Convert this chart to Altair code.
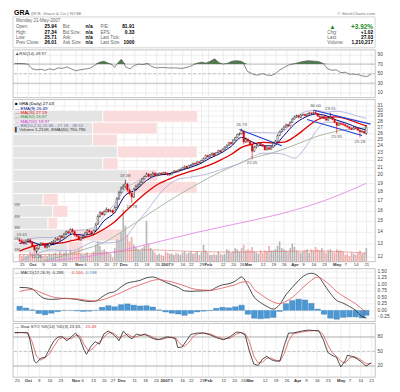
import altair as alt
import pandas as pd

W = 364
H_HEAD, H_RSI, H_PRICE, H_MACD, H_STO = 38, 48, 163, 53, 54
FONT = "Liberation Sans"
GRID = "#e3e3e3"
LBLC = "#444444"

# ---------------- x-axis categories (trading-day index -> label) ----------------
tick_idx = [1, 6, 11, 16, 21, 28, 31, 36, 41, 45, 49, 55, 60, 65, 69, 72, 77, 81, 86, 89,
            96, 101, 105, 108, 115, 120, 125, 130, 134, 139, 144, 150, 154, 159, 164]
tick_lbl = ["25", "Oct", "9", "16", "23", "Nov", "6", "13", "20", "27", "Dec", "11", "18", "26",
            "2007", "8", "16", "22", "29", "Feb", "12", "20", "26", "Mar", "12", "19", "26",
            "Apr", "9", "16", "23", "May", "7", "14", "21"]
month_idx = [6, 28, 49, 69, 89, 108, 130, 150]

# ---------------- daily prices (Sep 22 2006 .. May 21 2007) ----------------
closes = [13.2, 13.1, 13.0, 13.2, 13.3, 13.1,
          12.8, 12.5, 12.6, 12.9, 13.0,
          12.9, 12.7, 12.8, 13.0, 13.1,
          13.2, 13.4, 13.3, 13.6, 13.5,
          13.8, 14.0, 13.9, 14.2, 14.0,
          13.7, 13.6, 13.3, 13.5, 13.6,
          13.9, 14.1, 14.0, 13.8, 14.1,
          14.6, 15.4, 15.8, 15.6, 15.9,
          16.1, 15.9, 16.0, 15.8,
          16.3, 17.2, 17.9, 18.4, 18.6,
          18.9, 18.2, 17.8, 17.4, 18.3,
          18.6, 18.8, 19.1, 19.5, 19.8,
          20.1, 19.8, 20.0, 20.2, 19.9,
          20.0, 20.2, 20.1, 20.3,
          20.2, 20.0, 20.1,
          20.3, 20.5, 20.4, 20.6, 20.7,
          20.9, 21.1, 20.9, 21.2,
          21.3, 21.5, 21.4, 21.7, 21.6,
          21.9, 22.2, 22.6, 22.4, 22.7,
          22.9, 22.6, 23.0, 23.3, 23.1,
          23.5, 23.8, 24.1, 24.5, 24.3,
          24.9, 25.3, 25.8, 25.9,
          26.4, 24.6, 25.0, 24.7, 24.2,
          23.2, 23.8, 24.0, 24.4, 24.2,
          24.0, 23.4, 23.7, 23.5, 23.8,
          24.4, 24.7, 25.6, 26.2, 26.6,
          27.0, 27.4, 27.2, 27.8, 28.4,
          28.8, 29.0, 28.7, 29.1,
          29.2, 29.0, 29.3, 29.5, 29.4,
          29.6, 29.4, 28.9, 28.7, 28.8,
          28.5, 28.2, 28.5, 28.7, 28.3,
          27.8,
          27.3, 27.6, 27.5, 27.4,
          27.2, 27.0, 26.8, 26.6, 26.9,
          26.8, 26.5, 26.2, 26.3, 26.01,
          27.03]
opens = [13.3, 13.2, 13.1, 13.0, 13.2, 13.3,
         13.1, 12.8, 12.4, 12.6, 12.9,
         13.0, 12.9, 12.7, 12.8, 13.0,
         13.1, 13.2, 13.4, 13.3, 13.6,
         13.5, 13.8, 14.0, 13.9, 14.2,
         14.0, 13.7, 13.6, 13.3, 13.5,
         13.6, 13.9, 14.1, 14.0, 13.8,
         14.1, 14.7, 15.4, 15.8, 15.6,
         15.9, 16.1, 15.9, 16.0,
         15.8, 16.3, 17.2, 17.9, 18.4,
         18.6, 18.9, 18.2, 17.8, 17.4,
         18.3, 18.6, 18.8, 19.1, 19.5,
         19.8, 20.1, 19.8, 20.0, 20.2,
         19.9, 20.0, 20.2, 20.1,
         20.3, 20.2, 20.0,
         20.1, 20.3, 20.5, 20.4, 20.6,
         20.7, 20.9, 21.1, 20.9,
         21.2, 21.3, 21.5, 21.4, 21.7,
         21.6, 21.9, 22.2, 22.6, 22.4,
         22.7, 22.9, 22.6, 23.0, 23.3,
         23.1, 23.5, 23.8, 24.1, 24.5,
         24.3, 24.9, 25.3, 25.8,
         25.9, 26.3, 24.6, 25.0, 24.7,
         24.2, 23.2, 23.8, 24.0, 24.4,
         24.2, 24.0, 23.4, 23.7, 23.5,
         23.8, 24.4, 24.7, 25.6, 26.2,
         26.6, 27.0, 27.4, 27.2, 27.8,
         28.4, 28.8, 29.0, 28.7,
         29.1, 29.2, 29.0, 29.3, 29.5,
         29.4, 29.6, 29.4, 28.9, 28.7,
         28.8, 28.5, 28.2, 28.5, 28.7,
         28.3,
         27.8, 27.3, 27.6, 27.5,
         27.4, 27.2, 27.0, 26.8, 26.6,
         26.9, 26.8, 26.5, 26.2, 26.3,
         25.94]
highs = [13.4, 13.41, 13.3, 13.3, 13.4, 13.4,
         13.2, 12.9, 12.7, 13.0, 13.1,
         13.1, 13.0, 12.9, 13.1, 13.2,
         13.3, 13.5, 13.5, 13.7, 13.7,
         13.9, 14.1, 14.1, 14.3, 14.3,
         14.1, 13.8, 13.7, 13.6, 13.7,
         14.0, 14.2, 14.2, 14.1, 14.2,
         14.8, 15.6, 15.9, 15.9, 16.0,
         16.3, 16.2, 16.1, 16.1,
         16.5, 17.4, 18.1, 18.6, 18.9,
         19.38, 19.0, 18.4, 17.9, 18.4,
         18.8, 19.0, 19.3, 19.6, 19.9,
         20.3, 20.2, 20.1, 20.4, 20.3,
         20.2, 20.3, 20.3, 20.4,
         20.4, 20.3, 20.2,
         20.4, 20.6, 20.6, 20.7, 20.8,
         21.0, 21.2, 21.2, 21.3,
         21.4, 21.6, 21.6, 21.8, 21.8,
         22.0, 22.3, 22.7, 22.7, 22.8,
         23.0, 23.0, 23.1, 23.4, 23.4,
         23.6, 23.9, 24.2, 24.6, 24.6,
         25.0, 25.4, 25.9, 26.1,
         26.73, 26.4, 25.3, 25.2, 24.8,
         24.3, 24.0, 24.2, 24.6, 24.5,
         24.3, 24.1, 23.9, 23.8, 23.9,
         24.6, 24.9, 25.8, 26.4, 26.8,
         27.2, 27.6, 27.6, 28.0, 28.6,
         29.0, 29.2, 29.1, 29.3,
         29.4, 29.4, 29.5, 29.7, 29.7,
         29.8, 30.0, 29.5, 29.1, 29.0,
         29.0, 28.6, 28.7, 29.55, 28.8,
         28.4,
         27.9, 27.8, 27.8, 27.7,
         27.5, 27.3, 27.1, 26.9, 27.1,
         27.0, 26.9, 26.6, 26.5, 26.4,
         27.34]
lows = [13.1, 13.0, 12.9, 12.9, 13.1, 13.0,
        12.7, 12.4, 12.26, 12.5, 12.8,
        12.8, 12.6, 12.6, 12.7, 12.9,
        13.0, 13.1, 13.2, 13.2, 13.4,
        13.4, 13.7, 13.8, 13.8, 13.9,
        13.6, 13.5, 13.2, 13.2, 13.4,
        13.5, 13.8, 13.9, 13.7, 13.7,
        14.0, 14.6, 15.3, 15.5, 15.5,
        15.8, 15.8, 15.8, 15.7,
        15.7, 16.2, 17.1, 17.8, 18.2,
        18.4, 18.0, 17.6, 16.78, 17.3,
        18.1, 18.4, 18.7, 19.0, 19.4,
        19.7, 19.7, 19.7, 19.9, 19.8,
        19.8, 19.9, 20.0, 20.0,
        20.1, 19.9, 19.9,
        20.0, 20.2, 20.3, 20.3, 20.5,
        20.6, 20.8, 20.8, 20.8,
        21.1, 21.2, 21.3, 21.3, 21.5,
        21.5, 21.8, 22.1, 22.3, 22.3,
        22.6, 22.5, 22.5, 22.9, 23.0,
        23.0, 23.4, 23.7, 24.0, 24.2,
        24.2, 24.8, 25.2, 25.6,
        25.8, 24.2, 24.4, 24.5, 24.0,
        22.05, 23.1, 23.6, 23.9, 24.0,
        23.8, 23.3, 23.3, 23.4, 23.4,
        23.7, 24.3, 24.6, 25.5, 26.1,
        26.5, 26.9, 27.0, 27.1, 27.7,
        28.3, 28.6, 28.5, 28.6,
        29.0, 28.9, 28.9, 29.2, 29.2,
        29.3, 29.3, 28.8, 28.5, 28.6,
        28.4, 28.1, 28.1, 28.4, 28.2,
        27.7,
        25.95, 27.2, 27.3, 27.2,
        27.1, 26.9, 26.6, 26.5, 26.5,
        26.6, 26.4, 25.28, 26.1, 25.9,
        25.71]
volumes = [0.7, 0.5, 0.6, 0.5, 0.6, 0.9,
           0.8, 1.0, 1.1, 0.7, 0.6,
           0.5, 0.6, 0.5, 0.7, 0.6,
           0.7, 0.8, 0.6, 0.9, 0.7,
           0.8, 0.9, 0.7, 1.0, 0.8,
           0.9, 0.8, 1.1, 0.7, 0.6,
           0.7, 0.8, 0.6, 0.7, 0.9,
           1.5, 1.8, 1.4, 1.0, 1.1,
           0.9, 0.8, 0.7, 0.4,
           1.2, 2.0, 1.9, 2.6, 4.6,
           3.2, 2.4, 1.8, 2.2, 1.5,
           1.3, 1.1, 1.0, 1.2, 1.4,
           3.6, 1.6, 1.2, 1.0, 0.8,
           0.6, 0.7, 0.6, 0.5,
           0.9, 0.8, 0.7,
           0.7, 0.6, 0.8, 0.7, 0.6,
           0.8, 0.9, 0.7, 0.8,
           0.9, 0.7, 0.8, 0.9, 0.6,
           0.8, 1.5, 1.0, 0.8, 0.6,
           0.6, 0.7, 0.6, 0.9, 0.7,
           0.6, 0.7, 1.1, 1.0, 0.8,
           0.9, 1.2, 1.1, 0.9,
           1.2, 1.5, 1.0, 1.1, 1.0,
           1.3, 0.9, 0.8, 0.7, 1.0,
           0.8, 1.0, 0.9, 1.4, 1.0,
           1.0, 1.1, 1.4, 1.8, 1.2,
           1.1, 1.0, 0.9, 1.2, 1.6,
           1.3, 1.0, 0.9, 0.8,
           0.9, 1.0, 1.1, 0.8, 1.1,
           1.0, 1.3, 1.1, 1.0, 1.2,
           0.9, 0.8, 1.0, 1.1, 0.9,
           0.8,
           1.1, 1.0, 1.0, 0.9,
           0.6, 0.7, 0.5, 0.8, 0.7,
           0.6, 0.8, 1.0, 0.7, 0.8,
           1.21]

# ---------------- overlays (read at sample days) ----------------
line_idx = [0, 5, 10, 15, 20, 25, 30, 35, 40, 45, 50, 55, 60, 65, 70, 75, 80, 85, 90, 95,
            100, 105, 110, 115, 120, 125, 130, 135, 140, 145, 150, 155, 160, 164]
ema9 = [13.0, 13.15, 12.9, 12.9, 13.25, 13.8, 13.7, 13.9, 15.0, 15.8, 17.6, 18.2, 19.3, 19.95,
        20.1, 20.45, 20.9, 21.4, 22.2, 22.9, 23.9, 25.3, 24.6, 24.0, 24.0, 25.6, 27.5, 28.7,
        29.3, 29.0, 28.2, 27.6, 26.9, 26.49]
ma20 = [12.4, 12.7, 12.9, 13.0, 13.05, 13.25, 13.46, 13.75, 14.24, 14.9, 15.9, 16.9, 17.9, 18.8,
        19.4, 19.95, 20.37, 20.8, 21.3, 21.95, 22.72, 23.76, 24.26, 24.53, 24.46, 24.55, 25.4,
        26.7, 28.1, 28.75, 28.8, 28.38, 27.7, 27.19]
bb_up = [13.2, 13.4, 13.5, 13.5, 13.65, 14.05, 14.16, 14.35, 15.45, 16.7, 18.3, 19.1, 19.9, 20.2,
         20.1, 20.45, 21.07, 21.7, 22.4, 23.25, 24.3, 25.95, 26.1, 26.1, 26.0, 26.35, 28.6,
         29.7, 30.0, 29.65, 29.8, 29.5, 28.9, 28.52]
bb_lo = [11.6, 12.0, 12.3, 12.5, 12.45, 12.45, 12.76, 13.15, 13.05, 13.1, 13.5, 14.7, 15.9, 17.4,
         18.7, 19.45, 19.67, 19.9, 20.2, 20.65, 21.1, 21.55, 22.4, 22.9, 22.9, 22.75, 22.2,
         23.7, 26.2, 27.85, 27.8, 27.3, 26.5, 25.85]
ma50_idx = [0, 10, 20, 30, 40, 50, 60, 70, 80, 90, 100, 110, 120, 130, 140, 150, 160, 164]
ma50 = [11.2, 11.6, 12.0, 12.5, 13.1, 14.2, 15.5, 16.9, 18.3, 19.7, 21.0, 22.2, 23.0, 24.1,
        25.4, 26.3, 26.8, 26.87]
ma200_idx = [0, 13, 39, 61, 84, 107, 126, 144, 164]
ma200 = [11.3, 11.6, 12.15, 12.95, 13.95, 14.9, 15.8, 17.0, 18.97]
vema_idx = [0, 20, 40, 50, 60, 70, 80, 100, 120, 140, 164]
vema = [0.62, 0.65, 0.75, 0.95, 1.05, 1.0, 0.92, 0.85, 0.9, 0.95, 0.75]

trend_id = ["a", "a", "b", "b", "c", "c"]
trend_i = [104, 124, 139, 166, 136, 162]
trend_p = [26.6, 24.0, 30.0, 27.5, 28.3, 25.6]

ann_i = [1, 8, 50, 53, 105, 110, 140, 147, 150, 161]
ann_p = [13.41, 12.26, 19.38, 16.78, 26.73, 22.05, 30.00, 29.55, 25.95, 25.28]
ann_side = ["above", "below", "above", "below", "above", "below", "above", "above", "below", "below"]

# volume-by-price zones (price bounds, up / down volume in millions)
vbp_lo = [12.26, 13.21, 14.23, 15.33, 16.52, 17.80, 19.18, 20.66, 22.26, 23.98, 25.84, 27.84]
vbp_hi = [13.21, 14.23, 15.33, 16.52, 17.80, 19.18, 20.66, 22.26, 23.98, 25.84, 27.84, 30.00]
vbp_up = [9.1, 9.9, 5.8, 6.6, 5.0, 19.8, 19.0, 14.9, 17.3, 13.2, 13.2, 14.9]
vbp_dn = [2.5, 8.2, 1.6, 2.5, 2.5, 10.7, 5.0, 2.5, 13.2, 4.1, 10.7, 15.7]

# ---------------- indicators ----------------
rsi_idx = [0, 3, 6, 8, 10, 12, 14, 16, 18, 20, 22, 24, 26, 28, 30, 33, 35, 37, 39, 41, 43, 45, 46,
           47, 49, 50, 51, 53, 55, 57, 59, 61, 63, 65, 68, 71, 74, 77, 80, 82, 84, 86, 88, 90, 92,
           94, 96, 98, 100, 102, 104, 105, 107, 110, 112, 114, 116, 118, 120, 122, 124, 126, 129,
           132, 135, 138, 140, 142, 144, 146, 148, 150, 152, 154, 156, 158, 160, 162, 163, 164]
rsi_val = [71, 71, 70, 60, 58, 59, 57, 60, 58, 62, 61, 64, 60, 56, 58, 60, 62, 68, 74, 76, 72, 68, 63,
           70, 80, 74, 64, 60, 67, 70, 69, 71, 65, 62, 63, 62, 62, 61, 64, 68, 72, 74, 72, 76, 81,
           73, 70, 72, 76, 77, 76, 74, 55, 48, 47, 50, 47, 46, 50, 58, 63, 68, 71, 75, 77, 76, 75,
           71, 60, 57, 58, 52, 53, 49, 49, 48, 45, 44, 46, 50]

macd_idx = list(range(0, 163, 3)) + [164]
macd = [0.88, 0.87, 0.82, 0.60, 0.45, 0.42, 0.43, 0.46, 0.45, 0.42,
        0.37, 0.34, 0.36, 0.52, 0.66, 0.72, 0.90, 1.05, 1.10, 1.15,
        1.25, 1.28, 1.20, 1.08, 0.98, 0.88, 0.75, 0.73, 0.74, 0.75,
        0.76, 0.88, 0.98, 1.02, 1.12, 1.28, 0.95, 0.50, 0.30, 0.15,
        0.05, 0.22, 0.60, 0.88, 1.15, 1.35, 1.42, 1.33, 1.00, 0.65,
        0.38, 0.28, 0.15, 0.00, -0.24, -0.288]
signal = [0.72, 0.78, 0.80, 0.72, 0.62, 0.53, 0.48, 0.46, 0.45, 0.44,
          0.41, 0.37, 0.36, 0.40, 0.48, 0.58, 0.68, 0.80, 0.90, 0.98,
          1.07, 1.15, 1.18, 1.14, 1.09, 1.02, 0.94, 0.85, 0.80, 0.78,
          0.77, 0.80, 0.86, 0.92, 0.98, 1.08, 1.10, 0.80, 0.62, 0.45,
          0.32, 0.26, 0.34, 0.50, 0.72, 0.95, 1.15, 1.28, 1.15, 0.95,
          0.72, 0.55, 0.40, 0.25, 0.05, -0.10]

sk_idx = [0, 3, 6, 7, 9, 10, 12, 14, 16, 18, 20, 22, 24, 26, 28, 30, 32, 33, 35, 37, 39, 41, 43, 45,
          47, 48, 50, 52, 54, 56, 58, 60, 62, 64, 66, 68, 70, 72, 74, 75, 77, 79, 81, 84, 87, 90,
          93, 96, 99, 102, 104, 106, 108, 110, 112, 114, 116, 118, 120, 122, 124, 126, 128, 130,
          132, 135, 138, 140, 142, 144, 146, 148, 150, 152, 153, 155, 157, 159, 161, 162, 163, 164]
sk_val = [89, 89, 88, 74, 30, 26, 36, 38, 55, 72, 80, 80, 72, 80, 88, 76, 52, 44, 60, 70, 65, 86, 92,
          86, 78, 72, 92, 82, 76, 86, 83, 86, 80, 76, 74, 77, 80, 79, 76, 58, 59, 72, 85, 88, 88, 84,
          78, 74, 80, 90, 89, 84, 50, 24, 21, 34, 40, 33, 30, 30, 62, 88, 88, 90, 92, 94, 93, 92, 74,
          48, 42, 38, 18, 30, 42, 40, 36, 30, 22, 20, 24, 26]
sd_idx = [0, 3, 6, 8, 10, 12, 14, 16, 18, 20, 22, 24, 26, 28, 30, 32, 34, 36, 38, 40, 42, 44, 46, 48,
          50, 52, 54, 56, 58, 60, 62, 64, 66, 68, 70, 72, 74, 76, 78, 80, 82, 84, 87, 90, 93, 96, 99,
          102, 104, 106, 108, 110, 112, 114, 116, 118, 120, 122, 124, 126, 128, 130, 132, 135, 138,
          140, 142, 144, 146, 148, 150, 152, 154, 156, 158, 160, 162, 164]
sd_val = [88, 89, 89, 70, 40, 32, 37, 45, 60, 74, 79, 76, 76, 83, 82, 64, 50, 56, 66, 74, 84, 90, 86,
          78, 82, 86, 80, 80, 84, 84, 83, 78, 75, 75, 78, 79, 78, 66, 60, 68, 80, 86, 88, 86, 80, 76,
          77, 86, 89, 87, 70, 40, 26, 28, 36, 36, 32, 30, 45, 72, 86, 88, 90, 92, 93, 93, 84, 64, 48,
          40, 30, 26, 36, 40, 36, 30, 24, 25.49]

# ---------------- header text ----------------
hdr_l1 = ["Open:", "High:", "Low:", "Prev Close:"]
hdr_v1 = ["25.94", "27.34", "25.71", "26.01"]
hdr_l2 = ["Bid:", "Bid Size:", "Ask:", "Ask Size:"]
hdr_v2 = ["n/a", "n/a", "n/a", "n/a"]
hdr_l3 = ["P/E:", "EPS:", "Last Tick:", "Last Size:"]
hdr_v3 = ["81.91", "0.33", "\u2191", "1000"]
hdr_l4 = ["", "Chg:", "Last:", "Volume:"]
hdr_v4 = ["+3.92%", "+1.02", "27.03", "1,210,217"]

leg_text = ["\u25a0 GRA (Daily) 27.03", "\u2014 EMA(9) 26.49", "\u2014 MA(20) 27.19",
            "\u2014 MA(50) 26.87", "\u2014 MA(200) 18.97",
            "\u2014 BB(20,2.0) 25.85 - 27.19 - 28.52", "\u258c Volume 1,210K, EMA(60) 750,796"]
leg_color = ["#000000", "#000080", "#dd0000", "#3c8c3c", "#cc33cc", "#6a6aa8", "#333333"]

# =====================================================================
lab_expr = ("[" + ",".join("'%s'" % t for t in tick_lbl) + "][indexof(["
            + ",".join(str(t) for t in tick_idx) + "], datum.value)]")
bold_test = "indexof([" + ",".join(str(t) for t in month_idx) + "], datum.value) >= 0"

XS = alt.Scale(domain=[-0.8, 165.8], nice=False, zero=False)


def xaxis(labels):
    if labels:
        return alt.Axis(values=tick_idx, labelExpr=lab_expr, grid=True, gridColor=GRID, gridWidth=0.6,
                        ticks=False, domain=False, labelFontSize=4.3, labelColor="#333333",
                        labelPadding=1, labelOverlap=False, labelFlush=False, labelBound=False,
                        title=None, labelFont=FONT,
                        labelFontWeight={"condition": {"test": bold_test, "value": "bold"},
                                         "value": "normal"})
    return alt.Axis(values=tick_idx, labels=False, grid=True, gridColor=GRID, gridWidth=0.6,
                    ticks=False, domain=False, title=None)


def yaxis(values, fmt):
    return alt.Axis(orient="right", values=values, format=fmt, grid=True, gridColor=GRID,
                    gridWidth=0.6, ticks=False, domain=False, labelFontSize=4.8, labelColor=LBLC,
                    labelPadding=2, labelOverlap=False, title=None, labelFont=FONT)


one = pd.DataFrame({"k": [0]})


def stext(txt, x, y, align="left", color="#555555", size=4.6, weight="normal"):
    return alt.Chart(one).mark_text(align=align, baseline="middle", fontSize=size, fontWeight=weight,
                                    color=color, font=FONT).encode(
        x=alt.value(x), y=alt.value(y), text=alt.value(txt))


# ---------------- header ----------------
hdr = pd.DataFrame({"row": [0, 1, 2, 3], "l1": hdr_l1, "v1": hdr_v1, "l2": hdr_l2, "v2": hdr_v2,
                    "l3": hdr_l3, "v3": hdr_v3, "l4": hdr_l4, "v4": hdr_v4})
HY = alt.Y("row:Q", scale=alt.Scale(domain=[0, 3], range=[17.5, 33.5]), axis=None)


def htext(field, x, align, color="#666666", size=4.6, weight="normal", filt=None):
    c = alt.Chart(hdr)
    if filt:
        c = c.transform_filter(filt)
    return c.mark_text(align=align, baseline="middle", fontSize=size, fontWeight=weight,
                       color=color, font=FONT).encode(x=alt.value(x), y=HY, text=f"{field}:N")


box = alt.Chart(one).mark_rect(fill="white", stroke="#c4c4c4", strokeWidth=0.7).encode(
    x=alt.value(0), x2=alt.value(W), y=alt.value(7), y2=alt.value(H_HEAD))

header = alt.layer(
    box,
    stext("GRA", 1, 3.5, color="#000000", size=7, weight="bold"),
    stext("(W.R. Grace & Co.) NYSE", 18, 3.8, color="#777777", size=4.4),
    stext("\u00a9 StockCharts.com", W, 3.8, align="right", color="#777777", size=4.4),
    stext("Monday 21-May-2007", 3, 11.5, color="#666666", size=4.6),
    htext("l1", 3, "left"),
    htext("v1", 44, "right", color="#000000", size=4.9, weight="bold"),
    htext("l2", 50, "left"),
    htext("v2", 73, "left", color="#000000", size=4.9, weight="bold"),
    htext("l3", 88, "left"),
    htext("v3", 122, "right", color="#000000", size=4.9, weight="bold", filt="datum.row != 2"),
    htext("v3", 122, "right", color="#1a9a1a", size=5.5, weight="bold", filt="datum.row == 2"),
    htext("l4", 316, "left"),
    htext("v4", 362, "right", color="#000000", size=4.9, weight="bold", filt="datum.row > 0"),
    htext("v4", 362, "right", color="#1a8a1a", size=6.5, weight="bold", filt="datum.row == 0"),
    stext("\u25b2", 318, 17.5, color="#1a8a1a", size=6.5),
).properties(width=W, height=H_HEAD, view=alt.ViewBackground(stroke="transparent"))

# ---------------- RSI panel ----------------
rsi_df = pd.DataFrame({"i": rsi_idx, "rsi": rsi_val})
RS = alt.Scale(domain=[0, 100], nice=False)
r_axis = yaxis([10, 30, 50, 70, 90], "d")
RX = alt.X("i:Q", scale=XS, axis=xaxis(False))

rsi_fill = alt.Chart(rsi_df).transform_calculate(hi="max(datum.rsi, 70)").mark_area(
    color="#4f7b4f", clip=True).encode(x=RX, y=alt.Y("hi:Q", scale=RS, axis=r_axis), y2=alt.datum(70))
rsi_line = alt.Chart(rsi_df).mark_line(color="#555555", strokeWidth=0.7, clip=True).encode(
    x=RX, y=alt.Y("rsi:Q", scale=RS, axis=r_axis))
rsi_rules = alt.Chart(pd.DataFrame({"v": [30, 70]})).mark_rule(color="#9a9a9a", strokeWidth=0.6).encode(
    y=alt.Y("v:Q", scale=RS, axis=r_axis))
rsi_mid = alt.Chart(pd.DataFrame({"v": [50]})).mark_rule(color="#a8a8a8", strokeWidth=0.6,
                                                          strokeDash=[3, 2]).encode(
    y=alt.Y("v:Q", scale=RS, axis=r_axis))
rsi_panel = alt.layer(rsi_rules, rsi_mid, rsi_fill, rsi_line,
                      stext("\u25b2RSI(14) 49.97", 2, 4, color="#444444", size=4.4)
                      ).properties(width=W, height=H_RSI)

# ---------------- price panel ----------------
n = len(closes)
prev = [opens[0]] + closes[:-1]
df = pd.DataFrame({"i": list(range(n)), "open": opens, "high": highs, "low": lows,
                   "close": closes, "vol": volumes})
df["dir"] = ["down" if c < p else "up" for c, p in zip(closes, prev)]
df["body"] = ["hollow" if c >= o else d for c, o, d in zip(closes, opens, df["dir"])]

PS = alt.Scale(type="log", domain=[11.6, 32.1], nice=False)
p_axis = yaxis(list(range(12, 32)), "d")
PX = alt.X("i:Q", scale=XS, axis=xaxis(True))


def PY(field):
    return alt.Y(f"{field}:Q", scale=PS, axis=p_axis)


lines_df = pd.DataFrame({"i": line_idx, "ema9": ema9, "ma20": ma20, "bbu": bb_up, "bbl": bb_lo})
ma50_df = pd.DataFrame({"i": ma50_idx, "ma50": ma50})
ma200_df = pd.DataFrame({"i": ma200_idx, "ma200": ma200})


def pline(data, field, color, w):
    return alt.Chart(data).mark_line(color=color, strokeWidth=w, clip=True,
                                     interpolate="monotone").encode(x=PX, y=PY(field))


dir_scale = alt.Scale(domain=["up", "down"], range=["#000000", "#e00000"])
wicks = alt.Chart(df).mark_rule(strokeWidth=0.6, clip=True).encode(
    x=PX, y=PY("low"), y2="high:Q", color=alt.Color("dir:N", scale=dir_scale, legend=None))
bodies = alt.Chart(df).mark_bar(size=1.5, strokeWidth=0.4, clip=True).encode(
    x=PX, y=PY("open"), y2="close:Q",
    fill=alt.Fill("body:N", scale=alt.Scale(domain=["hollow", "up", "down"],
                                            range=["#ffffff", "#000000", "#e00000"]), legend=None),
    stroke=alt.Stroke("dir:N", scale=dir_scale, legend=None))

trend_df = pd.DataFrame({"id": trend_id, "i": trend_i, "p": trend_p})
trends = alt.Chart(trend_df).mark_line(color="#1f3fd6", strokeWidth=1.1, clip=True).encode(
    x=PX, y=PY("p"), detail="id:N")

ann_df = pd.DataFrame({"i": ann_i, "p": ann_p, "side": ann_side})
ann_above = alt.Chart(ann_df).transform_filter("datum.side == 'above'").mark_text(
    fontSize=4.3, color="#555555", baseline="bottom", dy=-2, font=FONT).encode(
    x=PX, y=PY("p"), text=alt.Text("p:Q", format=".2f"))
ann_below = alt.Chart(ann_df).transform_filter("datum.side == 'below'").mark_text(
    fontSize=4.3, color="#555555", baseline="top", dy=2, font=FONT).encode(
    x=PX, y=PY("p"), text=alt.Text("p:Q", format=".2f"))

core = alt.layer(
    pline(ma200_df, "ma200", "#e58be5", 0.9),
    pline(ma50_df, "ma50", "#9bb59b", 0.9),
    pline(lines_df, "bbu", "#a9a9d6", 0.8),
    pline(lines_df, "bbl", "#a9a9d6", 0.8),
    pline(lines_df, "ma20", "#e00000", 1.3),
    pline(lines_df, "ema9", "#000080", 1.0),
    trends, wicks, bodies, ann_above, ann_below,
)

# volume
VS = alt.Scale(domain=[0, 14.4], nice=False)
VX = alt.X("i:Q", scale=XS, axis=None)
vema_df = pd.DataFrame({"i": vema_idx, "v": vema})
vol_bars = alt.Chart(df).mark_bar(size=1.6, opacity=0.85).encode(
    x=VX, y=alt.Y("vol:Q", scale=VS, axis=None),
    color=alt.Color("dir:N", scale=alt.Scale(domain=["up", "down"], range=["#a9a9a9", "#ef9e9e"]),
                    legend=None))
vol_ema = alt.Chart(vema_df).mark_line(color="#e07070", strokeWidth=0.6, interpolate="monotone").encode(
    x=VX, y=alt.Y("v:Q", scale=VS, axis=None))
vol_lbl = alt.Chart(pd.DataFrame({"v": [1, 2, 3, 4, 5], "t": ["1M", "2M", "3M", "4M", "5M"]})).mark_text(
    align="left", baseline="middle", fontSize=4.3, color="#666666", font=FONT).encode(
    x=alt.value(1), y=alt.Y("v:Q", scale=VS, axis=None), text="t:N")
vol_layer = alt.layer(vol_bars, vol_ema, vol_lbl)

# volume by price
vbp_df = pd.DataFrame({"lo": vbp_lo, "hi": vbp_hi, "up": vbp_up, "dn": vbp_dn})
BX = alt.Scale(domain=[0, 60], nice=False, zero=True)
vbp_up_bar = alt.Chart(vbp_df).transform_calculate(z="0").mark_rect(
    color="#e4e4e4", stroke="#ffffff", strokeWidth=0.8).encode(
    x=alt.X("z:Q", scale=BX, axis=None), x2="up:Q",
    y=alt.Y("lo:Q", scale=PS, axis=None), y2="hi:Q")
vbp_dn_bar = alt.Chart(vbp_df).transform_calculate(tot="datum.up + datum.dn").mark_rect(
    color="#fadcdc", stroke="#ffffff", strokeWidth=0.8).encode(
    x=alt.X("up:Q", scale=BX, axis=None), x2="tot:Q",
    y=alt.Y("lo:Q", scale=PS, axis=None), y2="hi:Q")
vbp_layer = alt.layer(vbp_up_bar, vbp_dn_bar)

leg_df = pd.DataFrame({"row": list(range(len(leg_text))), "t": leg_text})
legend = alt.Chart(leg_df).mark_text(align="left", baseline="middle", fontSize=4.4, font=FONT).encode(
    x=alt.value(2), y=alt.Y("row:Q", scale=alt.Scale(domain=[0, 6], range=[5, 31]), axis=None),
    text="t:N", color=alt.Color("t:N", scale=alt.Scale(domain=leg_text, range=leg_color), legend=None))

price_panel = alt.layer(vbp_layer, vol_layer, core, legend).resolve_scale(
    x="independent", y="independent", color="independent", fill="independent", stroke="independent"
).properties(width=W, height=H_PRICE)

# ---------------- MACD panel ----------------
macd_df = pd.DataFrame({"i": macd_idx, "macd": macd, "signal": signal})
MS = alt.Scale(domain=[-0.42, 1.6], nice=False)
m_axis = yaxis([-0.25, 0, 0.25, 0.5, 0.75, 1.0, 1.25, 1.5], ".2f")
MX = alt.X("i:Q", scale=XS, axis=xaxis(False))
hist = alt.Chart(macd_df).transform_calculate(h="datum.macd - datum.signal").mark_bar(
    size=5.6, color="#4b98d4", stroke="#2f6fa8", strokeWidth=0.3).encode(
    x=MX, y=alt.Y("h:Q", scale=MS, axis=m_axis), y2=alt.datum(0))
m_line = alt.Chart(macd_df).mark_line(color="#222222", strokeWidth=0.8, interpolate="monotone").encode(
    x=MX, y=alt.Y("macd:Q", scale=MS, axis=m_axis))
s_line = alt.Chart(macd_df).mark_line(color="#e05555", strokeWidth=0.8, interpolate="monotone").encode(
    x=MX, y=alt.Y("signal:Q", scale=MS, axis=m_axis))
macd_panel = alt.layer(
    hist, m_line, s_line,
    stext("\u2014 MACD(12,26,9) -0.288,", 2, 4, color="#333333", size=4.3),
    stext("-0.100,", 58, 4, color="#dd3333", size=4.3),
    stext("-0.188", 72, 4, color="#3a86c8", size=4.3),
).properties(width=W, height=H_MACD)

# ---------------- Slow stochastic panel ----------------
sk_df = pd.DataFrame({"i": sk_idx, "k": sk_val})
sd_df = pd.DataFrame({"i": sd_idx, "d": sd_val})
SS = alt.Scale(domain=[-3, 108], nice=False)
s_axis = yaxis([20, 50, 80], "d")
SX = alt.X("i:Q", scale=XS, axis=xaxis(True))
sto_rules = alt.Chart(pd.DataFrame({"v": [20, 80]})).mark_rule(color="#9a9a9a", strokeWidth=0.7).encode(
    y=alt.Y("v:Q", scale=SS, axis=s_axis))
sto_mid = alt.Chart(pd.DataFrame({"v": [50]})).mark_rule(color="#a8a8a8", strokeWidth=0.6,
                                                          strokeDash=[3, 2]).encode(
    y=alt.Y("v:Q", scale=SS, axis=s_axis))
d_line = alt.Chart(sd_df).mark_line(color="#e05555", strokeWidth=0.8).encode(
    x=SX, y=alt.Y("d:Q", scale=SS, axis=s_axis))
k_line = alt.Chart(sk_df).mark_line(color="#222222", strokeWidth=0.8).encode(
    x=SX, y=alt.Y("k:Q", scale=SS, axis=s_axis))
sto_panel = alt.layer(
    sto_rules, sto_mid, d_line, k_line,
    stext("\u2014 Slow STO %K(14) %D(3) 23.33,", 2, 4, color="#333333", size=4.3),
    stext("25.49", 73, 4, color="#dd3333", size=4.3),
).properties(width=W, height=H_STO)

chart = alt.vconcat(header, rsi_panel, price_panel, macd_panel, sto_panel, spacing=0).properties(
    padding={"left": 4, "top": 0, "right": 2, "bottom": 0}
).configure(font=FONT).configure_view(stroke="#9c9c9c", strokeWidth=0.6)

chart.save("out.html", embed_options={"renderer": "svg", "actions": False})
